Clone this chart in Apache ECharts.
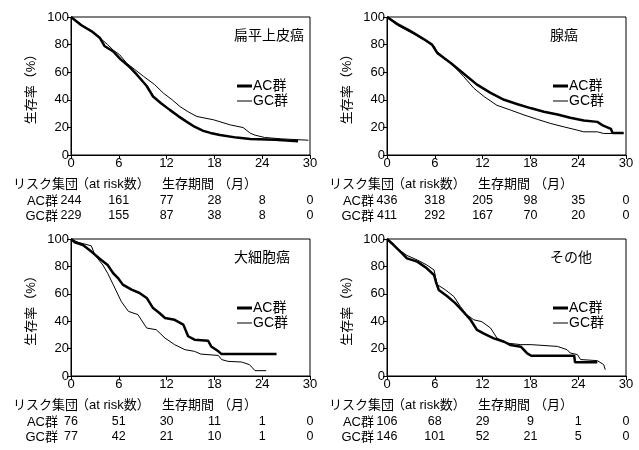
<!DOCTYPE html>
<html><head><meta charset="utf-8">
<script src="https://cdn.jsdelivr.net/npm/echarts@6/dist/echarts.min.js"></script>
<style>html,body{margin:0;padding:0;background:#fff}#c{width:639px;height:450px}</style>
</head><body><div id="c"></div>
<script>
const FONT = '"Liberation Sans", Arial, "Noto Sans CJK JP", sans-serif';
const panelTitles = ['扁平上皮癌', '腺癌', '大細胞癌', 'その他'];
const groupNames = ['AC群', 'GC群'];
const xTicks = [0, 6, 12, 18, 24, 30];
const riskHeaderParts = ['リスク集団', '（at risk数）', '生存期間', '（月）'];
const yAxisName = '生存率（%）';

// at-risk numbers at 0,6,12,18,24,30 months
const sqRiskAC = [244, 161, 77, 28, 8, 0];
const sqRiskGC = [229, 155, 87, 38, 8, 0];
const adRiskAC = [436, 318, 205, 98, 35, 0];
const adRiskGC = [411, 292, 167, 70, 20, 0];
const lcRiskAC = [76, 51, 30, 11, 1, 0];
const lcRiskGC = [77, 42, 21, 10, 1, 0];
const otRiskAC = [106, 68, 29, 9, 1, 0];
const otRiskGC = [146, 101, 52, 21, 5, 0];

// survival curves [month, %]
const sqAC = [[0,100],[1.3,94],[2.55,89.8],[3.6,85],[4.2,79],[5.3,75],[6.2,69.5],[7.4,63.5],[8.3,58],[9.5,50],[10.3,42.4],[11.3,37.5],[12.4,32.7],[13.5,28],[14.5,24.2],[15.5,20.5],[16.6,17.5],[17.5,16],[18.7,14.5],[20.8,12.6],[22.5,11.6],[25.6,11],[25.8,10],[28.5,10]];
const sqGC = [[0,100],[1.7,93],[3.4,86],[4.6,80],[5.3,76],[6.1,72.7],[7,66.5],[8,62],[9.1,57],[10.5,51],[11.6,44.8],[12.7,40],[13.7,35],[14.8,31],[15.8,27.9],[17.9,25.5],[20,21.8],[21.6,19.9],[22.5,15.8],[23.1,14.4],[24.3,12.7],[26.4,11.7],[29.8,10.7]];
const adAC = [[0,100],[1.26,95],[2.9,90],[4.6,84],[5.65,80],[6.3,74],[8,66.7],[9.6,59],[11.3,51],[13,45],[14.7,40],[16.3,37],[18,34],[19.7,31.4],[21.4,29.4],[23,27],[24.7,25],[26.4,24],[27,21.7],[28.1,19],[28.3,16],[29.7,16]];
const adGC = [[0,100],[1.3,94],[2.9,89],[4.6,83.7],[5.9,79],[6.3,75],[8,66.7],[9.6,57],[10.9,48.4],[12.2,42.3],[13.8,36],[15.5,32.6],[17.2,29],[18.9,25.8],[20.5,22.9],[22.2,20.4],[23.9,18],[24.7,16.8],[26.4,16.8],[27.2,15.6],[29.7,15.6]];
const lcAC = [[0,100],[0.46,97.6],[1.5,95.6],[2.55,90.8],[3.8,84.7],[4.6,81],[5.3,75],[5.9,71.5],[6.5,66.7],[7.6,63],[8.6,60.6],[9.5,57],[10.3,49.6],[11.1,46],[11.8,42.3],[13,41],[14.1,37.5],[14.7,29],[15.5,26.5],[17.2,25.8],[17.6,21.6],[18.5,18],[18.9,16],[25.8,16]];
const lcGC = [[0,100],[0.9,97.6],[2.55,95],[3,88.3],[4,81],[4.6,75],[5.3,66.7],[6.3,54.5],[7.2,47.2],[8.4,44.8],[9.5,35],[10.7,33.8],[11.8,27.7],[13,22.9],[14.3,19.2],[15.5,18],[16.3,16],[18.5,15],[18.9,12],[19.7,10.7],[21.4,10.2],[22.4,8.3],[23.1,3.9],[24.5,3.9]];
const otAC = [[0,100],[0.84,95.6],[1.9,89.5],[2.5,85.9],[3.8,83.5],[5,78.6],[5.9,73.7],[6.2,67.6],[6.5,62.8],[7.6,58],[8.6,53],[9.4,48],[10.5,40.9],[11.3,33.6],[12.1,31.1],[13.4,27.5],[14.7,25],[15.5,22.6],[16.8,21.4],[17.6,16.5],[18.1,14.8],[23.5,14.8],[23.6,10],[26.4,10]];
const otGC = [[0,100],[1.3,93],[2.5,88],[3.8,84.7],[5,81],[5.9,77.4],[6.3,66.7],[7.3,63],[8.4,58],[9.2,50.8],[10,44.8],[10.9,41],[11.9,39.7],[13,35],[13.8,27.7],[15.1,24],[16.8,22.9],[18.1,22.9],[21.4,21.6],[22.6,19.2],[23,16.8],[23.9,15.6],[24.3,12],[26.4,11.2],[27.2,8.3],[27.4,4.6]];

const curves = [[sqAC, sqGC], [adAC, adGC], [lcAC, lcGC], [otAC, otGC]];
const risks = [[sqRiskAC, sqRiskGC], [adRiskAC, adRiskGC], [lcRiskAC, lcRiskGC], [otRiskAC, otRiskGC]];
const lineWidths = [2.5, 1];

const grids = [
  {left: 71, top: 17, width: 239, height: 138},
  {left: 387, top: 17, width: 239, height: 138},
  {left: 71, top: 239, width: 239, height: 137},
  {left: 387, top: 239, width: 239, height: 137}
];

// legend icons: horizontal bar inside a 15x13 box (corner dots fix the box)
const legendIcons = [
  'path://M0,0h0.01v0.01h-0.01z M0,5h15v3h-15z M0,13h0.01v0.01h-0.01z',
  'path://M0,0h0.01v0.01h-0.01z M0,6h15v1h-15z M0,13h0.01v0.01h-0.01z'
];

const chart = echarts.init(document.getElementById('c'), null, {renderer: 'canvas'});
const axisCommon = {
  axisLine: {show: true, lineStyle: {color: '#000', width: 1}},
  axisTick: {show: true, inside: false, length: 4, lineStyle: {color: '#000', width: 1}},
  splitLine: {show: false},
  axisLabel: {color: '#000', fontSize: 13, fontFamily: FONT, margin: 2}
};
const option = {
  animation: false,
  backgroundColor: '#fff',
  grid: grids.map(g => Object.assign({show: true, borderColor: '#000', borderWidth: 1, backgroundColor: 'transparent'}, g)),
  xAxis: grids.map((g, i) => Object.assign({}, axisCommon, {
    type: 'value', gridIndex: i, min: 0, max: 30, interval: 6
  })),
  yAxis: grids.map((g, i) => Object.assign({}, axisCommon, {
    type: 'value', gridIndex: i, min: 0, max: 100, interval: 20,
    name: yAxisName, nameLocation: 'middle', nameRotate: 90, nameGap: 33,
    nameTextStyle: {color: '#000', fontSize: 13, fontFamily: FONT}
  })),
  title: grids.map((g, i) => ({
    text: panelTitles[i], left: g.left + 163, top: g.top + 12, padding: 0,
    textStyle: {color: '#000', fontSize: 14, fontWeight: 'normal', fontFamily: FONT}
  })),
  legend: grids.map((g, i) => ({
    orient: 'vertical', left: g.left + 166, top: g.top + 62, padding: 0,
    itemWidth: 15, itemHeight: 13, itemGap: 1,
    data: groupNames.map((n, k) => ({name: n, icon: legendIcons[k],
      itemStyle: {color: '#000', borderWidth: 0}})),
    selectedMode: false,
    textStyle: {color: '#000', fontSize: 14, fontFamily: FONT, padding: [0, 0, 0, -4]}
  })),
  series: []
};
curves.forEach((pair, i) => {
  pair.forEach((d, k) => {
    option.series.push({
      type: 'line', name: groupNames[k], xAxisIndex: i, yAxisIndex: i,
      data: d, symbol: 'none', showSymbol: false,
      lineStyle: {color: '#000', width: lineWidths[k]},
      itemStyle: {color: '#000'}
    });
  });
});
chart.setOption(option);

// risk tables placed under the x-axis ticks
const graphics = [];
grids.forEach((g, i) => {
  const bottom = g.top + g.height;
  const txt = (text, x, y, align, size) => graphics.push({
    type: 'text', x: x, y: y,
    style: {text: text, fill: '#000', font: size + 'px ' + FONT, textAlign: align, textVerticalAlign: 'middle'}
  });
  const hx = [g.left - 58, g.left + 5, g.left + 91, g.left + 147];
  riskHeaderParts.forEach((p, j) => txt(p, hx[j], bottom + 29, 'left', 13));
  [0, 1].forEach(k => {
    const y = bottom + 46 + k * 15;
    txt(groupNames[k], g.left - 13, y, 'right', 13);
    risks[i][k].forEach((v, j) => {
      const px = chart.convertToPixel({gridIndex: i}, [xTicks[j], 0]);
      txt(String(v), px[0], y, 'center', 12.5);
    });
  });
});
chart.setOption({graphic: graphics});
</script></body></html>
